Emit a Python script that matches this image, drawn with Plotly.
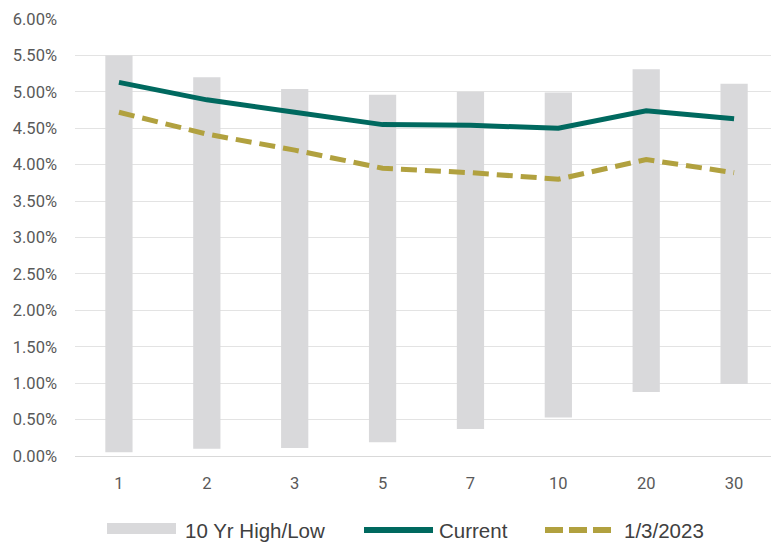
import plotly.graph_objects as go

# Treasury curve: maturities (years) and yields in percent
maturities = ["1", "2", "3", "5", "7", "10", "20", "30"]
ten_yr_low = [0.05, 0.10, 0.11, 0.19, 0.37, 0.53, 0.88, 0.99]
ten_yr_high = [5.50, 5.20, 5.04, 4.96, 5.00, 4.99, 5.31, 5.11]
current = [5.13, 4.89, 4.72, 4.55, 4.54, 4.50, 4.74, 4.63]
jan_3_2023 = [4.72, 4.42, 4.20, 3.95, 3.89, 3.80, 4.07, 3.89]

y_ticks = [i * 0.5 for i in range(13)]
y_tick_labels = [f"{v:.2f}%" for v in y_ticks]

legend_labels = ["10 Yr High/Low", "Current", "1/3/2023"]

GRAY = "#d9d9db"
TEAL = "#00695f"
OLIVE = "#b1a13f"
TEXT = "#404040"
AXIS_TEXT = "#595959"
GRID = "#e3e3e3"

W, H = 771, 542
L, T = 75, 19
B = H - 456
plot_w = W - L
plot_h = 456 - T

fig = go.Figure()

# Floating range bars (10-year high/low)
fig.add_trace(go.Bar(
    x=maturities,
    y=[h - l for h, l in zip(ten_yr_high, ten_yr_low)],
    base=ten_yr_low,
    width=0.31,
    marker=dict(color=GRAY, line=dict(width=0)),
    showlegend=False,
    hoverinfo="skip",
))

fig.add_trace(go.Scatter(
    x=maturities, y=current, mode="lines",
    line=dict(color=TEAL, width=5),
    showlegend=False,
))

fig.add_trace(go.Scatter(
    x=maturities, y=jan_3_2023, mode="lines",
    line=dict(color=OLIVE, width=5, dash="16px,8px"),
    showlegend=False,
))

# Custom legend row below the plot
def px_x(p):
    return (p - L) / plot_w

def px_y(p):
    return (456 - p) / plot_h

shapes = [
    dict(type="rect", xref="paper", yref="paper",
         x0=px_x(107), x1=px_x(176), y0=px_y(534), y1=px_y(523),
         fillcolor=GRAY, line=dict(width=0)),
    dict(type="line", xref="paper", yref="paper",
         x0=px_x(364), x1=px_x(433), y0=px_y(530), y1=px_y(530),
         line=dict(color=TEAL, width=6)),
    dict(type="line", xref="paper", yref="paper",
         x0=px_x(545), x1=px_x(611), y0=px_y(530), y1=px_y(530),
         line=dict(color=OLIVE, width=6, dash="18px,6px")),
]

annotations = []
for label, x0 in zip(legend_labels, [183, 437, 622]):
    annotations.append(dict(
        text=label, xref="paper", yref="paper",
        x=px_x(x0), y=px_y(530), xanchor="left", yanchor="middle",
        showarrow=False,
        font=dict(family="Liberation Sans, Arial, sans-serif", size=20.5, color=TEXT),
    ))

tick_font = dict(family="Roboto, Liberation Sans, sans-serif", size=16.5, color=AXIS_TEXT)

fig.update_layout(
    width=W, height=H,
    margin=dict(l=L, r=0, t=T, b=B),
    paper_bgcolor="white", plot_bgcolor="white",
    shapes=shapes, annotations=annotations,
    xaxis=dict(
        type="category",
        range=[-0.5, 7.42],
        showgrid=False,
        showline=True, linecolor="#d9d9d9", linewidth=1,
        ticks="", ticklabelstandoff=12,
        tickfont=tick_font,
        zeroline=False,
    ),
    yaxis=dict(
        range=[0, 6],
        tickmode="array", tickvals=y_ticks, ticktext=y_tick_labels,
        showgrid=True, gridcolor=GRID, gridwidth=1,
        zeroline=False, showline=False,
        ticks="", ticklabelstandoff=17,
        tickfont=tick_font,
    ),
)

fig.write_html("out.html")
